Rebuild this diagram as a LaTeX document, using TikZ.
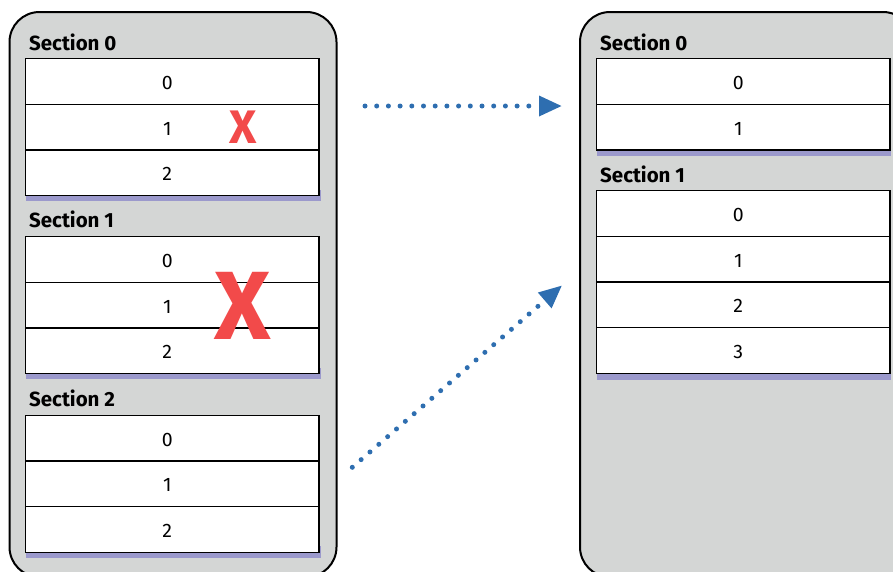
\documentclass[tikz,border=0pt]{standalone}
\usepackage{fontspec}
\setmainfont{Fira Sans}
\usetikzlibrary{arrows.meta}
\definecolor{panelgrey}{RGB}{212,214,213}
\definecolor{shadowblue}{RGB}{155,153,204}
\definecolor{arrowblue}{RGB}{46,110,176}
\definecolor{crossred}{RGB}{242,74,74}
\begin{document}
\begin{tikzpicture}[x=1pt,y=-1pt,
  panel/.style={draw=black, fill=panelgrey, line width=2pt, rounded corners=30pt,
    anchor=north west, outer sep=0pt, inner sep=0pt},
  cell/.style={draw=black, fill=white, line width=1.2pt, minimum width=293.5pt,
    minimum height=45.6pt, anchor=north west, outer sep=0pt, inner sep=0pt},
  num/.style={font=\fontsize{19.5}{22}\selectfont},
  seclabel/.style={font=\bfseries\fontsize{20.5}{24}\selectfont, anchor=base west, inner sep=0pt},
  shadowbar/.style={fill=shadowblue, draw=none},
  cross/.style={text=crossred, font=\bfseries, inner sep=0pt},
  flow/.style={draw=arrowblue, line width=5pt, line cap=round, dash pattern=on 0pt off 11.7pt,
    -{Triangle[length=22.5pt,width=21pt,line width=0pt]}}
]
\useasboundingbox (0,0) rectangle (893,571);
\clip (0,0) rectangle (893,571);

% panels
\node[panel, minimum width=327pt, minimum height=565pt] (leftpanel) at (9.5,12) {};
\node[panel, minimum width=333pt, minimum height=565pt] (rightpanel) at (580,12) {};

% ---------- left panel ----------
% Section 0
\node[seclabel] (ls0) at (29,50.7) {Section 0};
\fill[shadowbar] (25.5,190) rectangle (320.5,201.2);
\node[cell, label={[num,xshift=-5pt,yshift=-1.5pt]center:0}] (l00) at (25.5,58.7) {};
\node[cell, label={[num,xshift=-5pt,yshift=-1.5pt]center:1}] (l01) at (l00.south west) {};
\node[cell, label={[num,xshift=-5pt,yshift=-1.5pt]center:2}] (l02) at (l01.south west) {};

% Section 1
\node[seclabel] (ls1) at (29,227.5) {Section 1};
\fill[shadowbar] (25.5,368) rectangle (320.5,379.3);
\node[cell, label={[num,xshift=-5pt,yshift=-1.5pt]center:0}] (l10) at (25.5,236.7) {};
\node[cell, label={[num,xshift=-5pt,yshift=-1.5pt]center:1}] (l11) at (l10.south west) {};
\node[cell, label={[num,xshift=-5pt,yshift=-1.5pt]center:2}] (l12) at (l11.south west) {};

% Section 2
\node[seclabel] (ls2) at (29,406.3) {Section 2};
\fill[shadowbar] (25.5,546) rectangle (320.5,557.8);
\node[cell, label={[num,xshift=-5pt,yshift=-1.5pt]center:0}] (l20) at (25.5,415.3) {};
\node[cell, label={[num,xshift=-5pt,yshift=-1.5pt]center:1}] (l21) at (l20.south west) {};
\node[cell, label={[num,xshift=-5pt,yshift=-1.5pt]center:2}] (l22) at (l21.south west) {};

% crosses
\node[cross, font=\bfseries\fontsize{47}{50}\selectfont] (xsmall) at (243,127.7) {X};
\node[cross, font=\bfseries\fontsize{97}{100}\selectfont] (xbig) at (243,305.5) {X};

% ---------- right panel ----------
\node[seclabel] (rs0) at (600,50.7) {Section 0};
\fill[shadowbar] (596.5,145) rectangle (890.5,155.5);
\node[cell, label={[num,xshift=-5pt,yshift=-1.5pt]center:0}] (r00) at (596.5,58.7) {};
\node[cell, label={[num,xshift=-5pt,yshift=-1.5pt]center:1}] (r01) at (r00.south west) {};

\node[seclabel] (rs1) at (600,182.3) {Section 1};
\fill[shadowbar] (596.5,368) rectangle (890.5,379.5);
\node[cell, label={[num,xshift=-5pt,yshift=-1.5pt]center:0}] (r10) at (596.5,190.7) {};
\node[cell, label={[num,xshift=-5pt,yshift=-1.5pt]center:1}] (r11) at (r10.south west) {};
\node[cell, label={[num,xshift=-5pt,yshift=-1.5pt]center:2}] (r12) at (r11.south west) {};
\node[cell, label={[num,xshift=-5pt,yshift=-1.5pt]center:3}] (r13) at (r12.south west) {};

% ---------- arrows ----------
\coordinate (topstart) at (365,106);
\coordinate (toptip) at (561.5,106);
\coordinate (lowstart) at (352.3,467.3);
\coordinate (lowtip) at (561.7,285.7);
\draw[flow] (topstart) -- (toptip);
\draw[flow] (lowstart) -- (lowtip);
\end{tikzpicture}
\end{document}
